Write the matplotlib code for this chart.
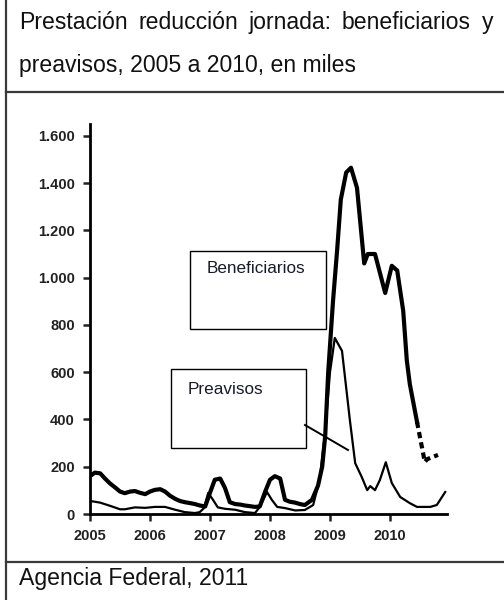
import matplotlib
matplotlib.use("Agg")
import matplotlib.pyplot as plt
from matplotlib.lines import Line2D
from matplotlib.patches import Rectangle

plt.rcParams['font.family'] = ['Liberation Sans', 'DejaVu Sans']

# datos (miles), eje x en años decimales
ben_x = [2005.00, 2005.08, 2005.17, 2005.25, 2005.33, 2005.42, 2005.50, 2005.58,
         2005.67, 2005.75, 2005.83, 2005.92, 2006.00, 2006.08, 2006.17, 2006.25,
         2006.33, 2006.42, 2006.50, 2006.58, 2006.67, 2006.75, 2006.83, 2006.92,
         2007.00, 2007.08, 2007.17, 2007.25, 2007.33, 2007.42, 2007.50, 2007.58,
         2007.67, 2007.75, 2007.83, 2007.92, 2008.00, 2008.08, 2008.17, 2008.25,
         2008.33, 2008.42, 2008.50, 2008.58, 2008.70, 2008.80, 2008.87, 2008.92,
         2008.97, 2009.05, 2009.12, 2009.18, 2009.27, 2009.35, 2009.45, 2009.57,
         2009.63, 2009.75, 2009.92, 2010.03, 2010.12, 2010.22, 2010.28, 2010.33,
         2010.45]
ben_y = [160, 175, 172, 150, 130, 112, 95, 88,
         95, 97, 90, 84, 95, 102, 105, 95,
         78, 64, 55, 50, 46, 42, 36, 32,
         90, 145, 150, 110, 50, 42, 40, 36,
         33, 30, 32, 95, 145, 160, 150, 60,
         52, 48, 42, 38, 60, 120, 200, 330,
         600, 900, 1120, 1330, 1445, 1465, 1380, 1060,
         1100, 1100, 935, 1050, 1030, 860, 650, 550,
         390]
# tramo provisional (discontinuo)
ben_prov_x = [2010.45, 2010.58, 2010.62, 2010.80]
ben_prov_y = [390, 220, 232, 250]

pre_x = [2005.00, 2005.08, 2005.17, 2005.33, 2005.50, 2005.58, 2005.75, 2005.92,
         2006.08, 2006.25, 2006.42, 2006.58, 2006.75, 2006.83, 2006.90, 2006.97,
         2007.05, 2007.13, 2007.25, 2007.42, 2007.58, 2007.75, 2007.83, 2007.95,
         2008.03, 2008.12, 2008.25, 2008.42, 2008.58, 2008.72, 2008.83, 2008.92,
         2009.00, 2009.08, 2009.20, 2009.33, 2009.42, 2009.53, 2009.62, 2009.67,
         2009.75, 2009.83, 2009.93, 2010.03, 2010.17, 2010.33, 2010.45, 2010.67,
         2010.78, 2010.92]
pre_y = [55, 52, 48, 35, 20, 20, 28, 26,
         30, 30, 18, 8, 4, 8, 25, 89,
         60, 28, 22, 18, 8, 4, 30, 93,
         60, 30, 25, 15, 17, 38, 150, 350,
         600, 745, 690, 400, 215, 156, 101, 118,
         101, 143, 219, 131, 72, 46, 30, 30,
         38, 93]

y_ticks = [0, 200, 400, 600, 800, 1000, 1200, 1400, 1600]
y_labels = ['0', '200', '400', '600', '800', '1.000', '1.200', '1.400', '1.600']
x_ticks = [2005, 2006, 2007, 2008, 2009, 2010]
x_labels = ['2005', '2006', '2007', '2008', '2009', '2010']

W, H = 504, 600
fig = plt.figure(figsize=(W / 100, H / 100), dpi=100)


def fx(px):
    return px / W


def fy(py):
    return 1 - py / H


ax = fig.add_axes([fx(90), fy(514), fx(447) - fx(90), fy(124) - fy(514)])
ax.plot(ben_x, ben_y, color='black', lw=3.0, solid_joinstyle='round')
ax.plot(ben_prov_x, ben_prov_y, color='black', lw=3.0, ls=(0, (1.5, 1)))
ax.plot(pre_x, pre_y, color='black', lw=1.6, solid_joinstyle='round')

ax.set_xlim(2005, 2010.95)
ax.set_ylim(0, 1650)
ax.set_yticks(y_ticks)
ax.set_yticklabels(y_labels)
ax.set_xticks(x_ticks)
ax.set_xticklabels(x_labels)
for s in ['top', 'right']:
    ax.spines[s].set_visible(False)
for s in ['left', 'bottom']:
    ax.spines[s].set_linewidth(2.0)
ax.tick_params(axis='both', length=5, width=1.8, labelsize=10.5, pad=6, colors='#222222')
for lab in ax.get_xticklabels() + ax.get_yticklabels():
    lab.set_fontweight('bold')

# cajas de rótulos
fig.add_artist(Rectangle((fx(190), fy(329)), fx(326) - fx(190), fy(251) - fy(329),
                         transform=fig.transFigure, fill=False, lw=1.0, ec='black'))
fig.text(fx(207), fy(269), 'Beneficiarios', fontsize=12.3, va='center', ha='left', color='#1a1a2a')
fig.add_artist(Rectangle((fx(171), fy(448)), fx(306) - fx(171), fy(369) - fy(448),
                         transform=fig.transFigure, fill=False, lw=1.0, ec='black'))
fig.text(fx(188), fy(389), 'Preavisos', fontsize=12.3, va='center', ha='left', color='#1a1a2a')
fig.add_artist(Line2D([fx(305), fx(348)], [fy(425), fy(450)], transform=fig.transFigure,
                      color='black', lw=1.4))

# marco tipo tabla
frame = '#3a3a3a'
fig.add_artist(Line2D([fx(6), fx(6)], [0, 1], transform=fig.transFigure, color=frame, lw=1.6))
fig.add_artist(Line2D([fx(6), 1], [fy(92), fy(92)], transform=fig.transFigure, color=frame, lw=1.6))
fig.add_artist(Line2D([fx(6), 1], [fy(562), fy(562)], transform=fig.transFigure, color=frame, lw=1.6))

# título: primera línea justificada entre x=19 y x=493
fs = 16.6
words = ['Prestación', 'reducción', 'jornada:', 'beneficiarios', 'y']
renderer = fig.canvas.get_renderer()
texts = [fig.text(0, fy(29), w, fontsize=fs, va='baseline', ha='left', color='#111111')
         for w in words]
widths = [t.get_window_extent(renderer).width for t in texts]
gap = (493 - 19 - sum(widths)) / (len(words) - 1)
pos = 19
for t, wd in zip(texts, widths):
    t.set_x(fx(pos))
    pos += wd + gap

fig.text(fx(19), fy(72), 'preavisos, 2005 a 2010, en miles', fontsize=fs,
         va='baseline', ha='left', color='#111111')
fig.text(fx(19), fy(585), 'Agencia Federal, 2011', fontsize=fs,
         va='baseline', ha='left', color='#111111')

fig.savefig('out.png', dpi=100)
